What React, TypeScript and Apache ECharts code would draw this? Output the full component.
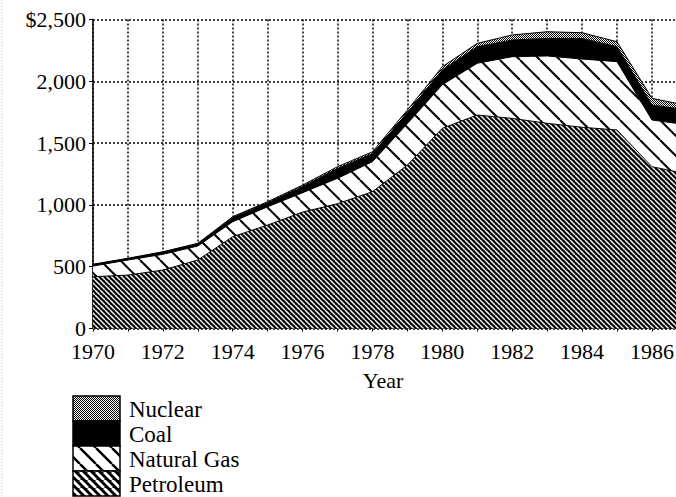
import React, { useEffect, useRef } from "react";
import * as echarts from "echarts";

const years = ["1970", "1971", "1972", "1973", "1974", "1975", "1976", "1977", "1978", "1979", "1980", "1981", "1982", "1983", "1984", "1985", "1986", "1987"];
const petroleum = [419, 432, 473, 554, 743, 837, 942, 1010, 1107, 1323, 1620, 1727, 1700, 1660, 1628, 1606, 1309, 1251];
const naturalGas = [86, 122, 127, 113, 121, 148, 157, 205, 243, 335, 353, 419, 499, 545, 552, 553, 378, 397];
const coal = [12, 12, 18, 18, 34, 33, 50, 80, 65, 90, 120, 134, 135, 142, 167, 121, 121, 121];
const nuclear = [3, 2, 3, 4, 7, 8, 11, 14, 15, 20, 25, 27, 41, 54, 46, 40, 54, 36];
const yTicks = [0, 500, 1000, 1500, 2000, 2500];
const legendNames = ["Nuclear", "Coal", "Natural Gas", "Petroleum"];

const FONT = "'Liberation Serif', 'DejaVu Serif', serif";

function stripe(size: number, lineW: number, fg: string, bg: string) {
  const c = document.createElement("canvas");
  c.width = size;
  c.height = size;
  const ctx = c.getContext("2d")!;
  ctx.fillStyle = bg;
  ctx.fillRect(0, 0, size, size);
  ctx.strokeStyle = fg;
  ctx.lineWidth = lineW;
  for (const x0 of [-size, 0, size]) {
    ctx.beginPath();
    ctx.moveTo(x0, 0);
    ctx.lineTo(x0 + size, size);
    ctx.stroke();
  }
  return { image: c, repeat: "repeat", imageWidth: size, imageHeight: size } as any;
}

function stipple() {
  const c = document.createElement("canvas");
  c.width = 2;
  c.height = 2;
  const ctx = c.getContext("2d")!;
  ctx.fillStyle = "#fff";
  ctx.fillRect(0, 0, 2, 2);
  ctx.fillStyle = "#000";
  ctx.fillRect(0, 0, 1, 1);
  ctx.fillRect(1, 1, 1, 1);
  return { image: c, repeat: "repeat", imageWidth: 2, imageHeight: 2 } as any;
}

export default function App() {
  const ref = useRef<HTMLDivElement>(null);
  useEffect(() => {
    if (!ref.current) return;
    const chart = echarts.init(ref.current, null, { renderer: "svg" });
    const petPat = stripe(5, 1.4, "#fff", "#000");
    const gasPat = stripe(20, 2, "#000", "#fff");
    const nucPat = stipple();
    const petLeg = stripe(8, 2.8, "#fff", "#000");
    const gasLeg = stripe(16, 2.5, "#000", "#fff");

    const mk = (name: string, vals: number[], fill: any) => ({
      name,
      type: "line",
      stack: "total",
      symbol: "none",
      data: vals,
      lineStyle: { color: "#000", width: 1 },
      areaStyle: { color: fill, opacity: 1 },
    });

    const legendTop = 396;
    const rowH = 25;
    const legendFills = [nucPat, "#000", gasLeg, petLeg];
    const legendGraphics: any[] = [];
    legendNames.forEach((n, i) => {
      legendGraphics.push({
        type: "rect",
        shape: { x: 73, y: legendTop + i * rowH, width: 47, height: rowH },
        style: { fill: legendFills[i], stroke: "#000", lineWidth: 1.5 },
      });
      legendGraphics.push({
        type: "text",
        x: 129,
        y: legendTop + i * rowH + rowH / 2 + 1,
        style: { text: n, font: `23px ${FONT}`, fill: "#000", textAlign: "left", textVerticalAlign: "middle" },
      });
    });

    chart.setOption({
      animation: false,
      backgroundColor: "#fff",
      grid: { left: 93, top: 19.5, right: 1.1, bottom: 168.5 },
      xAxis: {
        type: "category",
        data: years,
        boundaryGap: false,
        axisLine: { show: true, lineStyle: { color: "#000", width: 1 } },
        axisTick: { show: true, interval: 0, length: 3, lineStyle: { color: "#000" } },
        axisLabel: {
          color: "#000",
          fontFamily: FONT,
          fontSize: 22,
          margin: 12,
          interval: 1,
        },
        splitLine: { show: true, interval: 0, lineStyle: { color: "#000", width: 1.5, type: [2, 2] } },
      },
      yAxis: {
        type: "value",
        min: yTicks[0],
        max: yTicks[yTicks.length - 1],
        interval: 500,
        axisLine: { show: true, lineStyle: { color: "#000", width: 1.5 } },
        axisTick: { show: true, length: 4, lineStyle: { color: "#000" } },
        axisLabel: {
          color: "#000",
          fontFamily: FONT,
          fontSize: 22,
          margin: 7,
          formatter: (v: number) => (v === 2500 ? "$2,500" : v.toLocaleString("en-US")),
        },
        splitLine: { show: true, lineStyle: { color: "#000", width: 1.5, type: [2, 2] } },
      },
      series: [
        mk("Petroleum", petroleum, petPat),
        mk("Natural Gas", naturalGas, gasPat),
        mk("Coal", coal, "#000"),
        mk("Nuclear", nuclear, nucPat),
      ],
      graphic: [
        {
          type: "line",
          shape: { x1: 2, y1: 0, x2: 2, y2: 497 },
          style: { stroke: "#bbb", lineWidth: 1, lineDash: [1, 2] },
        },
        {
          type: "text",
          x: 383,
          y: 380,
          style: { text: "Year", font: `22px ${FONT}`, fill: "#000", textAlign: "center", textVerticalAlign: "middle" },
        },
        ...legendGraphics,
      ],
    });
    return () => chart.dispose();
  }, []);
  return (
    <div style={{ position: "absolute", left: 0, top: 0, width: 676, height: 497, overflow: "hidden", background: "#fff" }}>
      <div ref={ref} style={{ width: 688, height: 497 }} />
    </div>
  );
}
